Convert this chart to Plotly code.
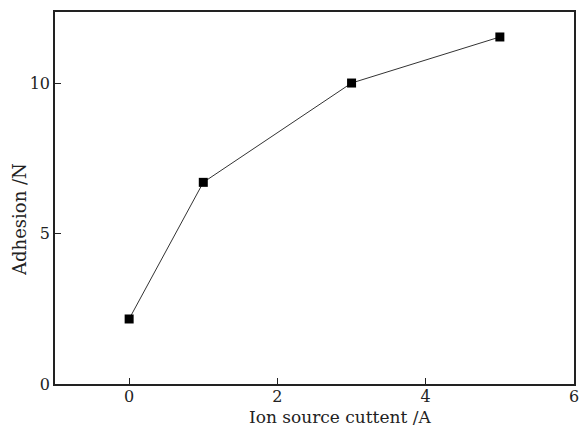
import plotly.graph_objects as go

current = [0, 1, 3, 5]
adhesion = [2.16, 6.7, 10.0, 11.53]
x_title = "Ion source cuttent /A"
y_title = "Adhesion /N"

fig = go.Figure()
fig.add_trace(go.Scatter(
    x=current, y=adhesion, mode="lines+markers",
    line=dict(color="#333333", width=1),
    marker=dict(symbol="square", size=9, color="black"),
    showlegend=False,
))

tick_font = dict(family="DejaVu Serif, Liberation Serif, serif", size=16, color="#222222")
title_font = dict(family="DejaVu Serif, Liberation Serif, serif", size=17, color="#222222")
axis_common = dict(
    showline=True, linecolor="#222222", linewidth=1.5, mirror=True,
    ticks="inside", ticklen=6, tickwidth=1, tickcolor="#222222",
    showgrid=False, zeroline=False, tickfont=tick_font, automargin=False,
    ticklabeloverflow="allow",
)
fig.update_xaxes(range=[-1, 6], tickvals=[0, 2, 4, 6], ticklabelstandoff=-3, **axis_common)
fig.update_yaxes(range=[0, 12.36], tickvals=[0, 5, 10], **axis_common)

fig.add_annotation(text=x_title, xref="paper", yref="paper", x=0.549, y=-0.117,
                   xanchor="center", yanchor="bottom", borderpad=0, showarrow=False,
                   font=title_font)
fig.add_annotation(text=y_title, xref="paper", yref="paper", x=0, y=0.441, xshift=-35,
                   xanchor="center", yanchor="middle", textangle=-90, showarrow=False,
                   font=dict(title_font, size=18))

fig.update_layout(
    width=579, height=428,
    margin=dict(l=55, r=5, t=12, b=44),
    plot_bgcolor="white", paper_bgcolor="white",
    font=tick_font,
)
fig.write_html("out.html", config={"displayModeBar": False},
               post_script="document.body.style.margin='0';document.body.style.overflow='hidden';")
